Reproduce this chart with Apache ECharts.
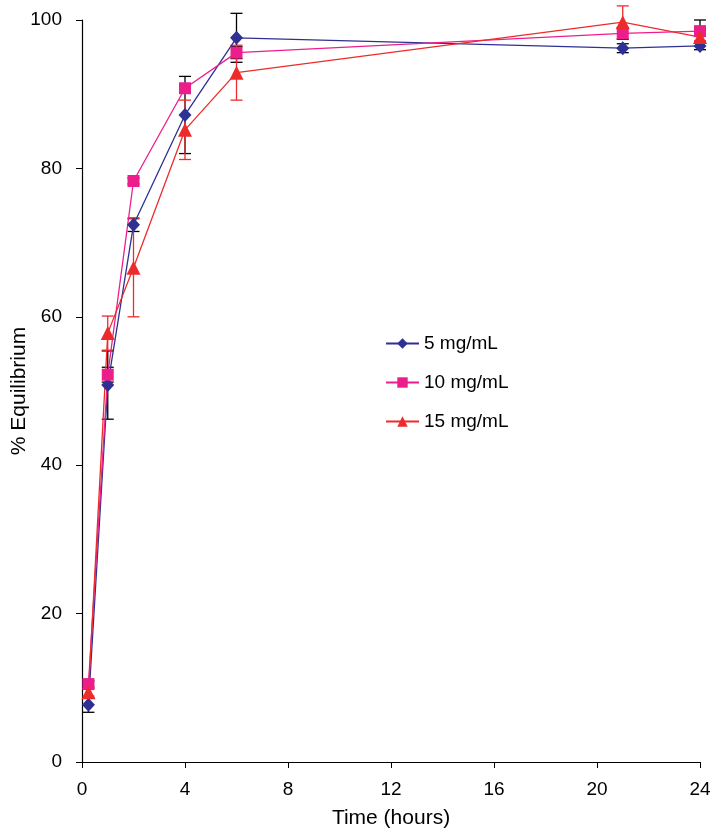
<!DOCTYPE html>
<html>
<head>
<meta charset="utf-8">
<script src="https://cdn.jsdelivr.net/npm/echarts@6/dist/echarts.min.js"></script>
<style>html,body{margin:0;padding:0;background:#fff}#c{width:711px;height:828px}</style>
</head>
<body>
<div id="c"></div>
<script>
var times = [0.25, 1, 2, 4, 6, 21, 24];
var seriesNames = ['5 mg/mL', '10 mg/mL', '15 mg/mL'];
var vals5 = [7.7, 50.8, 72.4, 87.2, 97.6, 96.2, 96.5];
var vals10 = [10.5, 52.2, 78.3, 90.8, 95.6, 98.2, 98.5];
var vals15 = [9.4, 57.8, 66.6, 85.2, 92.9, 99.7, 97.7];
var err5 = [1.0, 4.6, 0.9, 5.2, 3.3, 0.6, 0.5];
var err10 = [0.4, 1.0, 0.4, 0.5, 0.8, 0.8, 1.5];
var err15 = [0.5, 2.3, 6.6, 4.0, 3.7, 2.2, 0.5];
var xTicks = [0, 4, 8, 12, 16, 20, 24];
var yTicks = [0, 20, 40, 60, 80, 100];

var colors = ['#2E3192', '#EC1E8C', '#EE2B2B'];
var errColors = ['#000000', '#000000', '#EE2B2B'];
var symbols = ['diamond', 'rect', 'triangle'];
var symSizes = [[13, 14], 12, 14];
var allVals = [vals5, vals10, vals15];
var allErr = [err5, err10, err15];

function pairs(v) { return times.map(function (t, i) { return [t, v[i]]; }); }
function errData(v, e) { return times.map(function (t, i) { return [t, v[i] - e[i], v[i] + e[i]]; }); }

function errRender(color) {
  return function (params, api) {
    var x = api.value(0);
    var lo = api.coord([x, api.value(1)]);
    var hi = api.coord([x, api.value(2)]);
    var w = 6;
    var st = { stroke: color, lineWidth: 1.3 };
    return {
      type: 'group',
      children: [
        { type: 'line', shape: { x1: lo[0], y1: lo[1], x2: hi[0], y2: hi[1] }, style: st },
        { type: 'line', shape: { x1: lo[0] - w, y1: lo[1], x2: lo[0] + w, y2: lo[1] }, style: st },
        { type: 'line', shape: { x1: hi[0] - w, y1: hi[1], x2: hi[0] + w, y2: hi[1] }, style: st }
      ]
    };
  };
}

var series = [];
for (var k2 = 0; k2 < 3; k2++) {
  series.push({
    name: seriesNames[k2] + ' err',
    type: 'custom',
    data: errData(allVals[k2], allErr[k2]),
    renderItem: errRender(errColors[k2]),
    encode: { x: 0, y: [1, 2] },
    z: 1,
    silent: true
  });
}
for (var k = 0; k < 3; k++) {
  series.push({
    name: seriesNames[k],
    type: 'line',
    data: pairs(allVals[k]),
    symbol: symbols[k],
    symbolSize: symSizes[k],
    showAllSymbol: true,
    lineStyle: { color: colors[k], width: 1.3 },
    itemStyle: { color: colors[k] },
    z: 3
  });
}

var chart = echarts.init(document.getElementById('c'));
chart.setOption({
  animation: false,
  backgroundColor: '#fff',
  textStyle: { fontFamily: 'Liberation Sans, Arial, sans-serif' },
  grid: { left: 82, right: 11, top: 20, bottom: 66, containLabel: false, outerBoundsMode: 'none' },
  legend: {
    data: seriesNames.map(function (n) { return { name: n }; }),
    orient: 'vertical',
    left: 380,
    top: 329,
    itemWidth: 33,
    itemHeight: 13,
    itemGap: 20,
    textStyle: { fontSize: 19, color: '#000', fontFamily: 'Liberation Sans, Arial, sans-serif' }
  },
  xAxis: {
    type: 'value',
    min: 0, max: 24, interval: 4,
    name: 'Time (hours)',
    nameLocation: 'middle',
    nameGap: 46,
    nameTextStyle: { fontSize: 21, color: '#000' },
    axisLine: { show: true, onZero: false, lineStyle: { color: '#000', width: 1.2 } },
    axisTick: { show: true, inside: false, length: 6, lineStyle: { color: '#000' } },
    axisLabel: { fontSize: 19, color: '#000', margin: 18,
      customValues: xTicks },
    splitLine: { show: false }
  },
  yAxis: {
    type: 'value',
    min: 0, max: 100, interval: 20,
    name: '% Equilibrium',
    nameLocation: 'middle',
    nameGap: 52,
    nameMoveOverlap: false,
    nameTextStyle: { fontSize: 21, color: '#000' },
    axisLine: { show: true, onZero: false, lineStyle: { color: '#000', width: 1.2 } },
    axisTick: { show: true, inside: false, length: 6, lineStyle: { color: '#000' } },
    axisLabel: { fontSize: 19, color: '#000', margin: 20, customValues: yTicks },
    splitLine: { show: false }
  },
  series: series
});
</script>
</body>
</html>
